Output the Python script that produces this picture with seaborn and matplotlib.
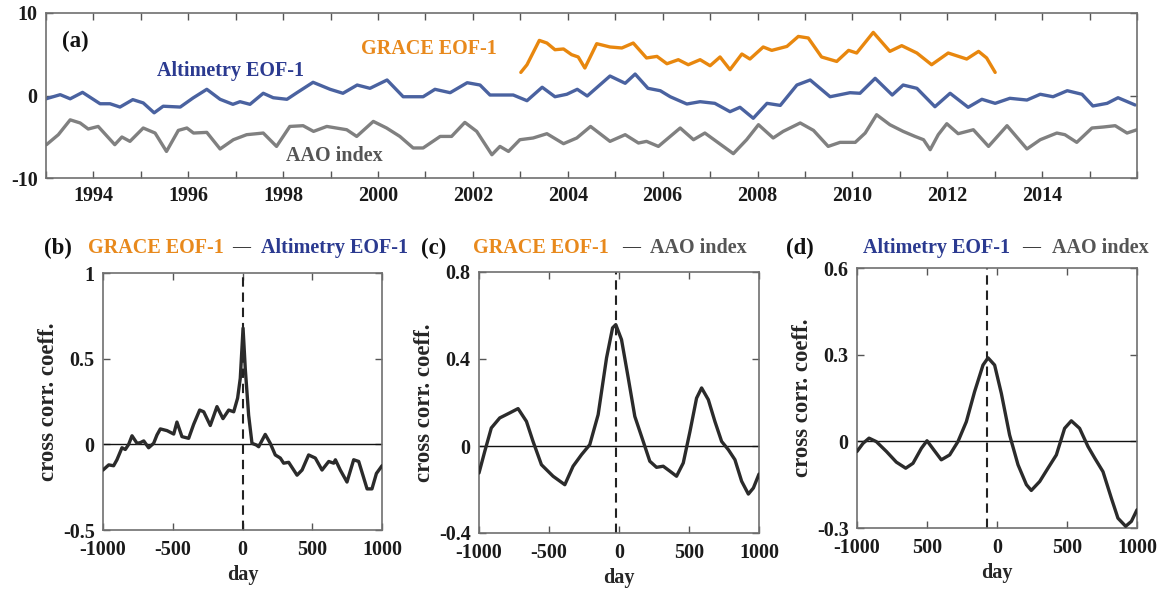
import matplotlib
matplotlib.use("Agg")
import matplotlib.pyplot as plt
import seaborn as sns

# ---------------- (a) time series: (decimal year, value) ----------------
alt_year = [1993.00, 1993.30, 1993.51, 1993.77, 1994.14, 1994.35, 1994.56, 1994.83, 1995.05,
            1995.28, 1995.47, 1995.83, 1996.10, 1996.39, 1996.67, 1996.94, 1997.09, 1997.30,
            1997.58, 1997.79, 1998.08, 1998.29, 1998.63, 1998.99, 1999.26, 1999.56, 1999.83,
            2000.19, 2000.53, 2000.95, 2001.20, 2001.52, 2001.88, 2002.15, 2002.36, 2002.85,
            2003.14, 2003.46, 2003.73, 2003.98, 2004.20, 2004.41, 2004.89, 2005.21, 2005.42,
            2005.69, 2005.95, 2006.16, 2006.51, 2006.79, 2007.10, 2007.42, 2007.63, 2007.91,
            2008.20, 2008.48, 2008.83, 2009.11, 2009.53, 2009.95, 2010.16, 2010.48, 2010.84,
            2011.07, 2011.36, 2011.74, 2012.06, 2012.44, 2012.73, 2013.01, 2013.32, 2013.68,
            2013.96, 2014.23, 2014.53, 2014.84, 2015.07, 2015.37, 2015.60, 2015.96]
alt_val = [-0.40, 0.10, -0.40, 0.38, -1.00, -1.00, -1.40, -0.50, -0.90,
           -2.10, -1.30, -1.40, -0.30, 0.75, -0.46, -1.07, -0.75, -1.07,
           0.27, -0.27, -0.46, 0.34, 1.60, 0.75, 0.27, 1.27, 0.87,
           1.88, -0.15, -0.15, 0.75, 0.34, 1.55, 1.27, 0.06, 0.06,
           -0.63, 1.00, -0.15, 0.15, 0.75, -0.06, 2.36, 1.48, 2.60,
           0.87, 0.58, -0.15, -1.03, -0.75, -0.95, -1.96, -1.43, -2.76,
           -0.95, -1.20, 1.27, 1.88, -0.15, 0.34, 0.27, 2.08, 0.06,
           1.27, 0.87, -1.36, 0.27, -1.43, -0.46, -0.95, -0.34, -0.55,
           0.15, -0.15, 0.58, 0.15, -1.27, -0.95, -0.27, -1.15]

aao_year = [1993.01, 1993.26, 1993.51, 1993.72, 1993.89, 1994.10, 1994.45, 1994.60, 1994.77,
            1995.05, 1995.30, 1995.54, 1995.79, 1995.97, 1996.11, 1996.39, 1996.67, 1996.95,
            1997.23, 1997.58, 1997.86, 1998.14, 1998.42, 1998.64, 1998.92, 1999.34, 1999.55,
            1999.90, 2000.18, 2000.46, 2000.74, 2000.95, 2001.31, 2001.55, 2001.83, 2002.08,
            2002.40, 2002.57, 2002.75, 2002.99, 2003.27, 2003.56, 2003.91, 2004.19, 2004.48,
            2004.89, 2005.21, 2005.49, 2005.66, 2005.91, 2006.37, 2006.65, 2006.89, 2007.49,
            2007.77, 2008.02, 2008.33, 2008.54, 2008.90, 2009.18, 2009.49, 2009.74, 2010.06,
            2010.27, 2010.51, 2010.79, 2011.07, 2011.32, 2011.50, 2011.64, 2011.81, 2011.99,
            2012.23, 2012.55, 2012.87, 2013.26, 2013.68, 2013.96, 2014.31, 2014.48, 2014.73,
            2015.05, 2015.29, 2015.54, 2015.79, 2016.00]
aao_val = [-5.96, -4.75, -2.95, -3.33, -4.06, -3.75, -5.96, -5.03, -5.56,
           -3.94, -4.55, -6.78, -4.23, -3.94, -4.55, -4.47, -6.48, -5.36,
           -4.75, -4.55, -6.17, -3.75, -3.66, -4.35, -3.75, -4.15, -4.96,
           -3.14, -3.94, -4.96, -6.36, -6.36, -4.96, -4.96, -3.26, -4.35,
           -7.18, -6.17, -6.78, -5.36, -5.15, -4.63, -5.84, -5.15, -3.75,
           -5.56, -4.75, -5.76, -5.56, -6.17, -3.94, -5.36, -4.55, -7.05,
           -5.36, -3.54, -5.15, -4.35, -3.33, -4.23, -6.17, -5.68, -5.68,
           -4.55, -2.33, -3.54, -4.35, -4.96, -5.36, -6.57, -4.75, -3.42,
           -4.63, -4.15, -6.17, -3.66, -6.48, -5.36, -4.55, -4.75, -5.68,
           -3.94, -3.82, -3.66, -4.55, -4.15]

grace_year = [2003.01, 2003.14, 2003.40, 2003.56, 2003.73, 2003.91, 2004.08, 2004.22, 2004.36,
              2004.61, 2004.89, 2005.14, 2005.38, 2005.66, 2005.88, 2006.09, 2006.33, 2006.54,
              2006.79, 2007.00, 2007.21, 2007.42, 2007.67, 2007.84, 2008.12, 2008.30, 2008.62,
              2008.86, 2009.07, 2009.35, 2009.67, 2009.92, 2010.09, 2010.44, 2010.79, 2011.04,
              2011.36, 2011.67, 2012.02, 2012.41, 2012.66, 2012.83, 2013.01]
grace_val = [2.80, 3.73, 6.68, 6.36, 5.55, 5.64, 4.95, 4.67, 3.33,
             6.28, 5.88, 5.76, 6.36, 4.55, 4.74, 3.85, 4.34, 3.73,
             4.34, 3.61, 4.67, 3.13, 5.03, 4.42, 5.88, 5.47, 5.95,
             7.16, 6.97, 4.67, 4.13, 5.47, 5.15, 7.65, 5.35, 6.04,
             5.15, 3.73, 5.15, 4.42, 5.35, 4.55, 2.80]

year_ticks = list(range(1993, 2017))
year_labels = [str(y) if (y % 2 == 0 and 1994 <= y <= 2014) else "" for y in year_ticks]
ts_yticks = [-10, 0, 10]
ts_ylabels = ["-10", "0", "10"]

# ---------------- (b)-(d) lagged cross correlations ----------------
lag_b = [-1000, -959, -924, -900, -864, -840, -816, -792, -756, -732, -708, -673, -637, -613,
         -589, -541, -493, -470, -434, -386, -350, -307, -278, -231, -183, -140, -99, -63, -35,
         -16, 4, 20, 44, 68, 99, 116, 163, 199, 235, 271, 295, 331, 391, 427, 474, 522, 570,
         618, 654, 666, 701, 749, 797, 833, 893, 928, 960, 1000]
cc_b = [-0.150, -0.120, -0.125, -0.090, -0.020, -0.030, 0.000, 0.050, 0.006, 0.010, 0.020,
        -0.020, 0.006, 0.055, 0.090, 0.080, 0.060, 0.130, 0.045, 0.035, 0.117, 0.200, 0.190,
        0.110, 0.220, 0.150, 0.200, 0.190, 0.270, 0.385, 0.678, 0.440, 0.170, 0.006, -0.004,
        -0.014, 0.058, 0.006, -0.062, -0.080, -0.110, -0.105, -0.180, -0.150, -0.062, -0.080,
        -0.150, -0.100, -0.110, -0.090, -0.150, -0.220, -0.090, -0.100, -0.260, -0.260,
        -0.170, -0.125]

lag_c = [-1000, -959, -912, -852, -781, -721, -661, -614, -554, -471, -387, -328, -268, -209,
         -149, -89, -46, -23, 18, 66, 113, 173, 220, 268, 316, 364, 411, 459, 507, 554, 590,
         638, 685, 733, 781, 828, 876, 924, 960, 1000]
cc_c = [-0.124, -0.025, 0.083, 0.129, 0.152, 0.172, 0.113, 0.021, -0.086, -0.139, -0.178,
        -0.093, -0.040, 0.006, 0.144, 0.405, 0.543, 0.558, 0.489, 0.313, 0.136, 0.021,
        -0.070, -0.098, -0.093, -0.116, -0.139, -0.078, 0.067, 0.220, 0.267, 0.213, 0.113,
        0.021, -0.017, -0.063, -0.162, -0.221, -0.193, -0.129]

lag_d = [-1000, -957, -914, -862, -790, -719, -652, -600, -540, -500, -457, -398, -338, -279,
         -219, -160, -100, -64, -17, 31, 90, 150, 210, 245, 305, 364, 424, 483, 531, 590, 650,
         698, 757, 817, 864, 919, 960, 1000]
cc_d = [-0.035, -0.007, 0.011, -0.001, -0.035, -0.072, -0.093, -0.076, -0.024, 0.002, -0.026,
        -0.064, -0.047, -0.001, 0.068, 0.172, 0.264, 0.289, 0.264, 0.166, 0.022, -0.081,
        -0.150, -0.170, -0.139, -0.093, -0.047, 0.045, 0.071, 0.045, -0.018, -0.058, -0.105,
        -0.197, -0.266, -0.294, -0.277, -0.237]

peak_lag_b, peak_lag_c, peak_lag_d = 0, -20, -70

lag_ticks = [-1000, -500, 0, 500, 1000]
lag_labels_b = ["-1000", "-500", "0", "500", "1000"]
lag_labels_c = ["-1000", "-500", "0", "500", "1000"]
lag_labels_d = ["-1000", "500", "0", "500", "1000"]
yt_b, ylab_b = [-0.5, 0, 0.5, 1], ["-0.5", "0", "0.5", "1"]
yt_c, ylab_c = [-0.4, 0, 0.4, 0.8], ["-0.4", "0", "0.4", "0.8"]
yt_d, ylab_d = [-0.3, 0, 0.3, 0.6], ["-0.3", "0", "0.3", "0.6"]

# ---------------- styling ----------------
C_GRACE = "#e8870e"
C_ALT = "#4a62a0"
C_AAO = "#808080"
T_GRACE = "#e8891c"
T_ALT = "#2b3a90"
T_AAO = "#555555"
C_CC = "#2b2b2b"
LINE_KW = dict(estimator=None, sort=False, solid_joinstyle="round", solid_capstyle="round")

sns.set_theme(style="ticks")
plt.rcParams.update({
    "font.family": ["Liberation Serif", "DejaVu Serif"],
    "font.weight": "bold",
    "axes.labelweight": "bold",
    "xtick.direction": "in",
    "ytick.direction": "in",
    "xtick.top": True,
    "ytick.right": True,
    "axes.edgecolor": "#707070",
    "axes.linewidth": 1.2,
    "xtick.color": "#555555",
    "ytick.color": "#555555",
    "xtick.labelcolor": "#1a1a1a",
    "ytick.labelcolor": "#1a1a1a",
    "xtick.major.size": 5,
    "ytick.major.size": 5,
    "xtick.major.width": 1.0,
    "ytick.major.width": 1.0,
    "xtick.labelsize": 14.5,
    "ytick.labelsize": 14.5,
})

W, H = 1164, 594
fig = plt.figure(figsize=(W / 100, H / 100), dpi=100)


def box(l, t, r, b):
    return [l / W, 1 - b / H, (r - l) / W, (b - t) / H]


def ftext(x, y, s, color, size=14.5):
    fig.text(x / W, 1 - y / H, s, color=color, fontsize=size, fontweight="bold",
             ha="left", va="center")


# ---- (a) ----
ax = fig.add_axes(box(46, 13, 1137, 178))
sns.lineplot(x=aao_year, y=aao_val, ax=ax, color=C_AAO, lw=2.4, **LINE_KW)
sns.lineplot(x=alt_year, y=alt_val, ax=ax, color=C_ALT, lw=2.4, **LINE_KW)
sns.lineplot(x=grace_year, y=grace_val, ax=ax, color=C_GRACE, lw=2.4, **LINE_KW)
ax.set_xlim(1993, 2016)
ax.set_ylim(-10, 10)
ax.set_xticks(year_ticks)
ax.set_xticklabels(year_labels)
ax.set_yticks(ts_yticks)
ax.set_yticklabels(ts_ylabels)
ax.tick_params(axis="x", pad=6)
ax.tick_params(axis="y", pad=6)
ax.set_xlabel("")
ax.set_ylabel("")
ftext(62, 41, "(a)", "#111111", 16.5)
ftext(157, 71, "Altimetry EOF-1", T_ALT)
ftext(361, 49, "GRACE EOF-1", T_GRACE)
ftext(286, 156, "AAO index", T_AAO)

# ---- (b)-(d) ----
panels = [
    (box(103, 273, 382, 530), lag_b, cc_b, peak_lag_b, yt_b, ylab_b, lag_labels_b, (-0.5, 1.0),
     [("(b)", "#111111", 44, 16.5), ("GRACE EOF-1", T_GRACE, 88, 14.5), ("\u2014", "#333333", 232, 13),
      ("Altimetry EOF-1", T_ALT, 261, 14.5)]),
    (box(479, 272, 759, 533), lag_c, cc_c, peak_lag_c, yt_c, ylab_c, lag_labels_c, (-0.4, 0.8),
     [("(c)", "#111111", 421, 16.5), ("GRACE EOF-1", T_GRACE, 473, 14.5), ("\u2014", "#333333", 622, 13),
      ("AAO index", T_AAO, 650, 14.5)]),
    (box(857, 268, 1137, 528), lag_d, cc_d, peak_lag_d, yt_d, ylab_d, lag_labels_d, (-0.3, 0.6),
     [("(d)", "#111111", 786, 16.5), ("Altimetry EOF-1", T_ALT, 863, 14.5), ("\u2014", "#333333", 1022, 13),
      ("AAO index", T_AAO, 1052, 14.5)]),
]

for rect, lag, cc, peak, yt, ylab, xlab, ylim, title in panels:
    ax = fig.add_axes(rect)
    ax.axhline(0, color="#111111", lw=1.0, zorder=1)
    ax.axvline(peak, color="#222222", lw=1.5, ls=(0, (4.5, 2.8)), zorder=1)
    sns.lineplot(x=lag, y=cc, ax=ax, color=C_CC, lw=2.4, zorder=3, **LINE_KW)
    ax.set_xlim(-1000, 1000)
    ax.set_ylim(*ylim)
    ax.set_xticks(lag_ticks)
    ax.set_xticklabels(xlab)
    ax.set_yticks(yt)
    ax.set_yticklabels(ylab)
    ax.tick_params(axis="x", pad=7)
    ax.tick_params(axis="y", pad=6)
    ax.set_xlabel("day", fontsize=14.5, fontweight="bold", labelpad=4)
    ax.set_ylabel("cross corr. coeff.", fontsize=16.5, fontweight="bold", labelpad=3)
    for s, c, x, size in title:
        ftext(x, 248, s, c, size)

fig.savefig("out.png", dpi=100, facecolor="white")
